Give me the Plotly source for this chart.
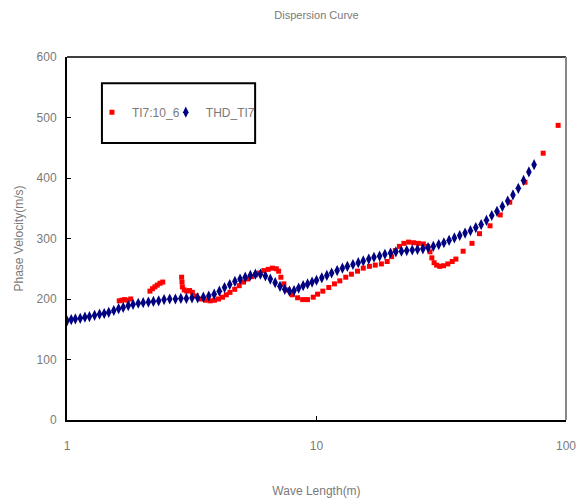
import plotly.graph_objects as go

# THD_TI7 (navy diamonds)
thd_x = [1.00, 1.04, 1.08, 1.13, 1.18, 1.23, 1.29, 1.35, 1.41, 1.47, 1.54, 1.61, 1.68, 1.76, 1.84,
         1.93, 2.02, 2.12, 2.22, 2.33, 2.45, 2.58, 2.72, 2.86, 3.01, 3.17, 3.34, 3.52, 3.70, 3.89,
         4.08, 4.28, 4.49, 4.71, 4.94, 5.18, 5.43, 5.69, 5.96, 6.24, 6.53, 6.83, 7.14, 7.46, 7.79,
         8.13, 8.48, 8.84, 9.21, 9.60, 10.0, 10.5, 11.0, 11.5, 12.1, 12.7, 13.3, 14.0, 14.7, 15.4,
         16.2, 17.0, 17.9, 18.8, 19.8, 20.8, 21.9, 23.0, 24.2, 25.4, 26.7, 28.0, 29.4, 30.9, 32.4,
         34.0, 35.7, 37.5, 39.4, 41.4, 43.5, 45.7, 48.0, 50.4, 52.9, 55.6, 58.4, 61.3, 64.4, 67.6,
         71.0, 74.5]
thd_y = [164, 166, 167, 168, 170, 171, 173, 175, 176, 178, 181, 184, 186, 189, 191,
         193, 194, 195, 196, 197, 199, 200, 200, 201, 201, 202, 202, 203, 205, 208,
         213, 219, 224, 229, 233, 236, 239, 241, 241, 238, 233, 227, 221, 216, 213,
         214, 218, 222, 225, 228, 231, 235, 239, 243, 247, 251, 254, 257, 260, 263,
         266, 269, 271, 274, 276, 278, 279, 280, 281, 282, 283, 285, 287, 290, 293,
         297, 301, 305, 309, 313, 318, 323, 330, 338, 345, 353, 362, 372, 383, 396,
         410, 422]

# TI7:10_6 (red squares)
ti7_x = [1.62, 1.66, 1.70, 1.75, 1.80,
         2.15, 2.20, 2.25, 2.30, 2.36, 2.42,
         2.88, 2.89, 2.90, 2.95, 3.02, 3.10, 3.18, 3.30, 3.45, 3.60, 3.75, 3.90, 4.05, 4.20,
         4.35, 4.50, 4.70, 4.90, 5.10, 5.30, 5.50, 5.70, 5.90, 6.15, 6.40, 6.65, 6.90, 7.05,
         7.20, 7.40, 7.70, 8.00, 8.40, 8.80, 9.20, 9.70, 10.1, 10.6, 11.2, 11.8, 12.4, 13.1,
         13.8, 14.6, 15.4, 16.3, 17.2, 18.2, 19.2, 20.0, 20.7, 21.5, 22.4, 23.4, 24.5, 25.6,
         26.8, 27.9, 28.5, 29.0, 29.6, 30.3, 31.2, 32.3, 33.6, 35.0, 36.2, 38.7, 42.0, 45.0,
         49.6, 54.5, 59.5, 68.5, 81.0, 93.0]
ti7_y = [197, 198, 199, 198, 200,
         213, 217, 220, 223, 226, 228,
         236, 228, 220, 215, 213, 214, 211, 205, 200, 198, 197, 198, 200, 203,
         207, 211, 216, 222, 228, 233, 237, 240, 243, 247, 249, 251, 250, 246,
         236, 225, 215, 207, 202, 199, 199, 203, 208, 213, 219, 225, 230, 236,
         241, 246, 251, 254, 256, 258, 262, 270, 280, 287, 292, 294, 293, 292,
         291, 287, 278, 268, 260, 256, 254, 255, 258, 262, 266, 279, 292, 308,
         321, 339, 360, 393, 441, 487]

y_ticks = [0, 100, 200, 300, 400, 500, 600]
x_ticks = [1, 10, 100]

gray = "#7a7a7a"
fam = "Liberation Sans Narrow, Liberation Sans, Arial"
tfont = dict(family=fam, size=12, color=gray)
legfont = dict(family=fam, size=12, color=gray)

fig = go.Figure()
fig.add_trace(go.Scatter(x=ti7_x, y=ti7_y, mode="markers", name="TI7:10_6", legend="legend",
                         marker=dict(symbol="square", size=5, color="#ff0000")))
fig.add_trace(go.Scatter(x=thd_x, y=thd_y, mode="markers", name="THD_TI7", legend="legend2",
                         marker=dict(symbol="diamond-tall", size=8, color="#000080")))

fig.update_layout(
    width=582, height=504,
    margin=dict(l=67, r=16, t=57, b=84),
    paper_bgcolor="white", plot_bgcolor="white",
    title=dict(text="Dispersion Curve", x=0.5, xref="paper", y=0.97, yanchor="middle",
               font=dict(family=fam, size=11, color=gray)),
    showlegend=True,
    legend=dict(x=0.05, y=0.848, xanchor="left", yanchor="middle",
                bgcolor="rgba(0,0,0,0)", borderwidth=0, font=legfont,
                itemsizing="trace", itemwidth=30),
    legend2=dict(x=0.198, y=0.848, xanchor="left", yanchor="middle",
                 bgcolor="rgba(0,0,0,0)", borderwidth=0, font=legfont,
                 itemsizing="trace", itemwidth=30),
    xaxis=dict(type="log", range=[0, 2], tickvals=x_ticks, ticktext=[str(v) for v in x_ticks],
               showgrid=False, zeroline=False, showline=True, linecolor="black", linewidth=2,
               ticks="inside", ticklen=4, tickcolor="black", tickfont=tfont,
               ticklabelstandoff=14, automargin=False,
               title=dict(text="Wave Length(m)", font=dict(family=fam, size=12, color=gray), standoff=34)),
    yaxis=dict(range=[0, 600], tickvals=y_ticks, showgrid=False, zeroline=False,
               showline=True, linecolor="black", linewidth=2,
               ticks="inside", ticklen=4, tickcolor="black", tickfont=tfont,
               ticklabelstandoff=6, automargin=False,
               title=dict(text="Phase Velocity(m/s)", font=dict(family=fam, size=12, color=gray), standoff=10)),
    shapes=[
        dict(type="line", xref="paper", yref="paper", x0=0, x1=1, y0=1, y1=1,
             line=dict(color="black", width=1.5)),
        dict(type="line", xref="paper", yref="paper", x0=1, x1=1, y0=0, y1=1,
             line=dict(color="#888888", width=2)),
        dict(type="rect", xref="paper", yref="paper", x0=0.070, x1=0.377, y0=0.763, y1=0.928,
             line=dict(color="black", width=2), fillcolor="rgba(0,0,0,0)"),
    ],
)

fig.write_html("out.html")
